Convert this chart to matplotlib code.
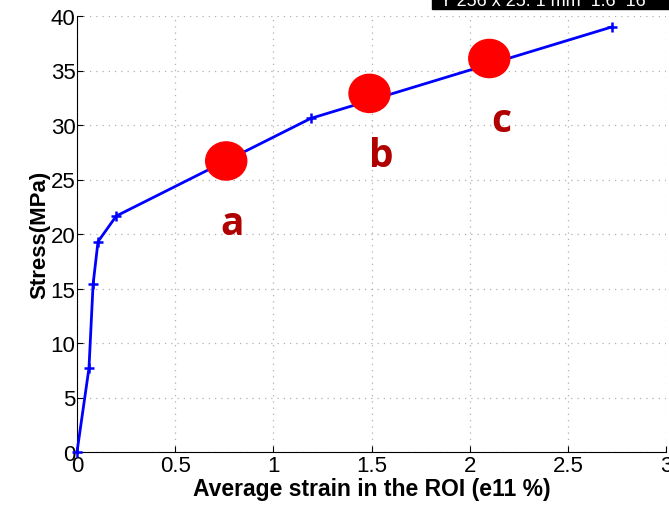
import matplotlib
matplotlib.use("Agg")
import matplotlib.pyplot as plt
from matplotlib.patches import Rectangle, Ellipse

# data
strain = [0.0, 0.061, 0.082, 0.107, 0.20, 1.19, 2.725]
stress = [0.0, 7.7, 15.4, 19.3, 21.65, 30.6, 39.0]

mark_x = [0.76, 1.49, 2.10]
mark_y = [26.7, 32.9, 36.1]
mark_labels = ["a", "b", "c"]
label_y = [21.0, 27.2, 30.4]
label_dx = [0.03, 0.06, 0.06]

xticks = [0, 0.5, 1, 1.5, 2, 2.5, 3]
xticklabels = ["0", "0.5", "1", "1.5", "2", "2.5", "3"]
yticks = list(range(0, 41, 5))

plt.rcParams['font.family'] = ['Liberation Sans', 'DejaVu Sans']

fig = plt.figure(figsize=(6.69, 5.06), dpi=100)
ax = fig.add_axes([77 / 669, 1 - 453 / 506, (666 - 77) / 669, (453 - 17) / 506])

ax.plot(strain, stress, color='#0000ff', lw=2, marker='+', ms=7, mew=1.8, clip_on=False, zorder=3)
for x, y in zip(mark_x, mark_y):
    ax.add_patch(Ellipse((x, y), 0.209, 3.5, color='#ff0000', zorder=4, clip_on=False))
for x, y, s, dx in zip(mark_x, label_y, mark_labels, label_dx):
    ax.text(x + dx, y, s, color='#b00000', fontsize=28, fontweight='bold',
            family=['Open Sans', 'DejaVu Sans'], ha='center', va='center')

ax.set_xlim(0, 3)
ax.set_ylim(0, 40)
ax.set_xticks(xticks)
ax.set_xticklabels(xticklabels)
ax.set_yticks(yticks)
ax.tick_params(direction='in', labelsize=16, length=4, pad=2)
ax.tick_params(axis='y', pad=1)
ax.grid(True, ls=(0, (1, 4)), color='#b0b0b0', lw=0.9)
ax.spines['top'].set_visible(False)
ax.spines['right'].set_visible(False)

ax.set_xlabel("Average strain in the ROI (e11 %)", fontsize=16.5, fontweight='bold', labelpad=1)
ax.set_ylabel("Stress(MPa)", fontsize=16, fontweight='bold', labelpad=0)

# cropped black info box at top right
fig.patches.append(Rectangle((432 / 669, 1 - 10 / 506), 1, 10 / 506,
                             transform=fig.transFigure, color='black', zorder=10))
fig.text(440 / 669, 1 - 2 / 506, "Y 256 x 25: 1 mm  1.6  16", color='white',
         fontsize=13, va='center', ha='left', zorder=11)

fig.savefig("out.png", dpi=100)
